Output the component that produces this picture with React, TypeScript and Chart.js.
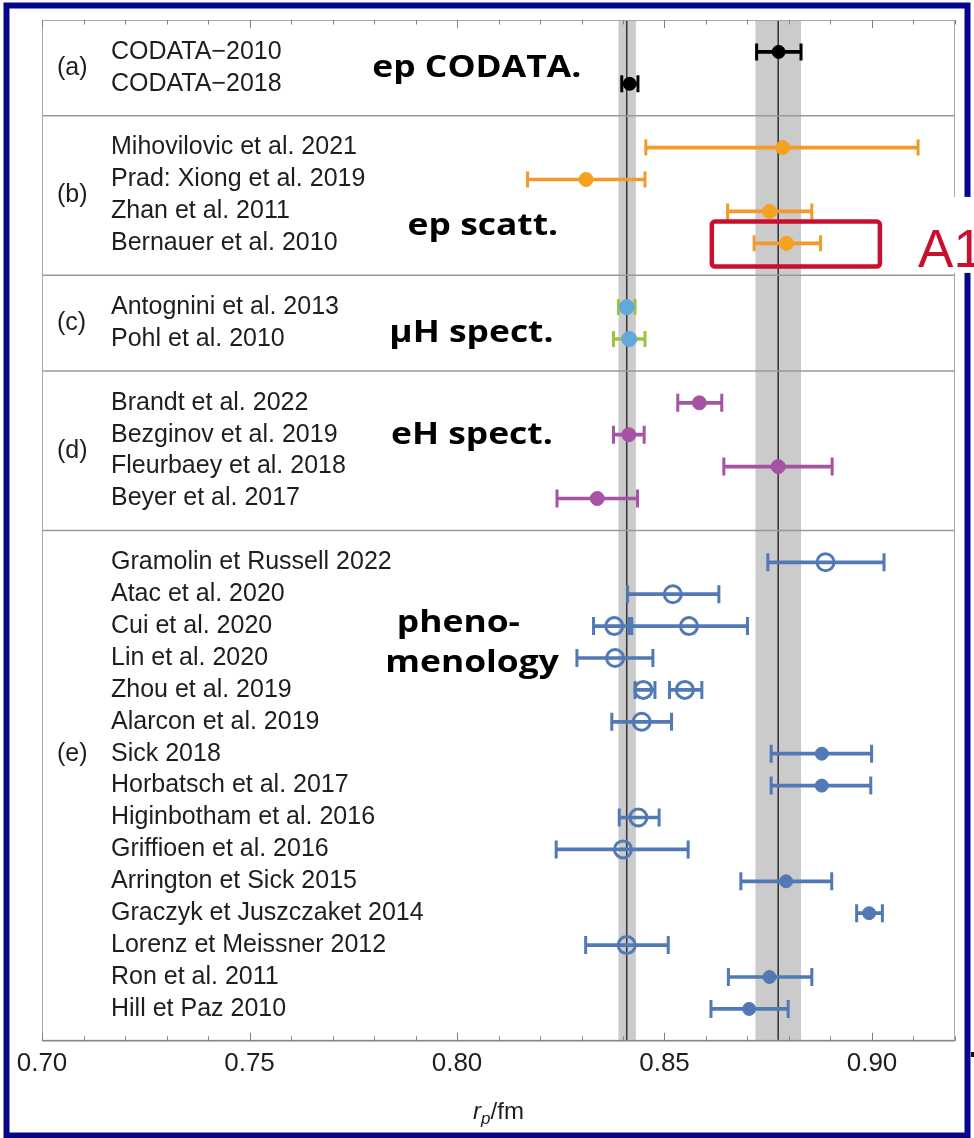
import React, { useEffect, useRef } from 'react';
import { Chart, registerables } from 'chart.js';

Chart.register(...registerables);

const FONT = "'Liberation Sans', Arial, Helvetica, sans-serif";
const BOLD_FONT = "'Open Sans', 'Noto Sans', sans-serif";

// ---- rows (labels and their vertical slot) ----
const rowLabels = [
  'CODATA−2010', 'CODATA−2018',
  'Mihovilovic et al. 2021', 'Prad: Xiong et al. 2019', 'Zhan et al. 2011', 'Bernauer et al. 2010',
  'Antognini et al. 2013', 'Pohl et al. 2010',
  'Brandt et al. 2022', 'Bezginov et al. 2019', 'Fleurbaey et al. 2018', 'Beyer et al. 2017',
  'Gramolin et Russell 2022', 'Atac et al. 2020', 'Cui et al. 2020', 'Lin et al. 2020', 'Zhou et al. 2019',
  'Alarcon et al. 2019', 'Sick 2018', 'Horbatsch et al. 2017', 'Higinbotham et al. 2016',
  'Griffioen et al. 2016', 'Arrington et Sick 2015', 'Graczyk et Juszczaket 2014',
  'Lorenz et Meissner 2012', 'Ron et al. 2011', 'Hill et Paz 2010',
];
const rowPositions = [1, 2, 4, 5, 6, 7, 9, 10, 12, 13, 14, 15, 17, 18, 19, 20, 21, 22, 23, 24, 25, 26, 27, 28, 29, 30, 31];
const rowGroup = [0, 0, 1, 1, 1, 1, 2, 2, 3, 3, 3, 3, 4, 4, 4, 4, 4, 4, 4, 4, 4, 4, 4, 4, 4, 4, 4];

// ---- groups ----
const groupNames = ['(a)', '(b)', '(c)', '(d)', '(e)'];
const groupLabelRow = [1.5, 5.5, 9.5, 13.5, 23];
const groupSeparators = [3, 8, 11, 16];
const groupMarkerColor = ['#000000', '#F6A21E', '#62A8DA', '#A553A3', '#5079B5'];
const groupBarColor = ['#000000', '#F29A2B', '#9CC43C', '#A553A3', '#5079B5'];
const groupRadius = [6.5, 7, 7.5, 7, 6.5];
const groupCapHalf = [8.5, 8, 8, 9, 9];

// ---- measurements (r_p in fm) ----
const pointRow = [0, 1, 2, 3, 4, 5, 6, 7, 8, 9, 10, 11, 12, 13, 14, 14, 15, 16, 16, 17, 18, 19, 20, 21, 22, 23, 24, 25, 26];
const pointValue = [0.8775, 0.8416, 0.8785, 0.8311, 0.8753, 0.8794, 0.8409, 0.8415, 0.8584, 0.8414, 0.8774, 0.8338,
  0.8888, 0.8520, 0.8379, 0.8559, 0.8381, 0.8449, 0.8549, 0.8445, 0.8879, 0.8879, 0.8437, 0.8400, 0.8793, 0.8993,
  0.8409, 0.8753, 0.8704];
const pointLow = [0.8722, 0.8397, 0.8455, 0.8170, 0.8652, 0.8716, 0.8389, 0.8377, 0.8532, 0.8377, 0.8643, 0.8241,
  0.8749, 0.8411, 0.8329, 0.8421, 0.8289, 0.8429, 0.8512, 0.8373, 0.8757, 0.8757, 0.8391, 0.8239, 0.8684, 0.8963,
  0.8310, 0.8654, 0.8612];
const pointHigh = [0.8829, 0.8436, 0.9111, 0.8453, 0.8855, 0.8876, 0.8429, 0.8453, 0.8638, 0.8451, 0.8904, 0.8435,
  0.9029, 0.8631, 0.8415, 0.8700, 0.8472, 0.8477, 0.8590, 0.8517, 0.8999, 0.8997, 0.8487, 0.8557, 0.8903, 0.9025,
  0.8509, 0.8855, 0.8798];
const pointOpen = [0, 0, 0, 0, 0, 0, 0, 0, 0, 0, 0, 0, 1, 1, 1, 1, 1, 1, 1, 1, 0, 0, 1, 1, 0, 0, 1, 0, 0];

// ---- reference lines and bands ----
const refLineValue = [0.8409, 0.8774];
const refBandLow = [0.8389, 0.8719];
const refBandHigh = [0.8431, 0.8829];

// ---- axis ----
const xMin = 0.70;
const xMax = 0.92;
const xStep = 0.01;
const xTickLabels = ['0.70', '0.75', '0.80', '0.85', '0.90'];

// ---- bold annotations ----
const annotText = ['ep CODATA.', 'ep scatt.', 'μH spect.', 'eH spect.', 'pheno-', 'menology'];
const annotX = [0.7796, 0.7881, 0.7837, 0.7841, 0.7855, 0.7827];
const annotRow = [1.78, 6.73, 10.08, 13.29, 19.18, 20.43];
const ANNOT_STRETCH = 1.18;

// ---- highlight box ----
const boxX = [0.8614, 0.9019];
const boxRow = [6.32, 7.73];
const boxLabel = 'A1';
const boxLabelX = 0.9111;
const boxLabelRow = 7.74;

const label = (v: number) => {
  const hit = xTickLabels.find((t) => Math.abs(parseFloat(t) - v) < 1e-6);
  return hit ?? '';
};

export default function App() {
  const ref = useRef<HTMLCanvasElement>(null);

  useEffect(() => {
    document.body.style.margin = '0';
    const canvas = ref.current!;

    const barData = pointValue.map((_, i) => ({ x: [pointLow[i], pointHigh[i]], y: rowPositions[pointRow[i]] }));
    const barColors = pointValue.map((_, i) => groupBarColor[rowGroup[pointRow[i]]]);

    const capData: { x: number; y: number }[] = [];
    const capColors: string[] = [];
    const capRadius: number[] = [];
    pointValue.forEach((_, i) => {
      const g = rowGroup[pointRow[i]];
      [pointLow[i], pointHigh[i]].forEach((v) => {
        capData.push({ x: v, y: rowPositions[pointRow[i]] });
        capColors.push(groupBarColor[g]);
        capRadius.push(groupCapHalf[g]);
      });
    });

    const markerData = pointValue.map((v, i) => ({ x: v, y: rowPositions[pointRow[i]] }));
    const markerBorder = pointValue.map((_, i) => groupMarkerColor[rowGroup[pointRow[i]]]);
    const markerFill = pointValue.map((_, i) => (pointOpen[i] ? 'rgba(255,255,255,0)' : groupMarkerColor[rowGroup[pointRow[i]]]));
    const markerRadius = pointValue.map((_, i) => (pointOpen[i] ? 8.5 : groupRadius[rowGroup[pointRow[i]]]));
    const markerBorderWidth = pointValue.map((_, i) => (pointOpen[i] ? 3 : 1));

    const backgroundPlugin = {
      id: 'background',
      beforeDraw(chart: any) {
        const { ctx, width, height } = chart;
        ctx.save();
        ctx.fillStyle = '#ffffff';
        ctx.fillRect(0, 0, width, height);
        ctx.restore();
      },
      beforeDatasetsDraw(chart: any) {
        const { ctx, chartArea: ca, scales } = chart;
        const xs = scales.x;
        const ys = scales.y;
        ctx.save();
        // bands
        ctx.fillStyle = '#cbcbcb';
        refBandLow.forEach((lo, i) => {
          const a = xs.getPixelForValue(lo);
          const b = xs.getPixelForValue(refBandHigh[i]);
          ctx.fillRect(a, ca.top, b - a, ca.bottom - ca.top);
        });
        // vertical reference lines
        ctx.strokeStyle = '#3a3a3a';
        ctx.lineWidth = 1.6;
        refLineValue.forEach((v) => {
          const p = xs.getPixelForValue(v);
          ctx.beginPath();
          ctx.moveTo(p, ca.top);
          ctx.lineTo(p, ca.bottom);
          ctx.stroke();
        });
        // group separators
        ctx.strokeStyle = '#999999';
        ctx.lineWidth = 1.5;
        groupSeparators.forEach((r) => {
          const p = ys.getPixelForValue(r);
          ctx.beginPath();
          ctx.moveTo(ca.left, p);
          ctx.lineTo(ca.right, p);
          ctx.stroke();
        });
        // frame
        ctx.strokeStyle = '#a8a8a8';
        ctx.lineWidth = 1;
        ctx.strokeRect(ca.left + 0.5, ca.top + 0.5, ca.right - ca.left - 1, ca.bottom - ca.top - 1);
        ctx.strokeStyle = '#888888';
        ctx.lineWidth = 1.5;
        ctx.beginPath();
        ctx.moveTo(ca.left, ca.bottom);
        ctx.lineTo(ca.right, ca.bottom);
        ctx.stroke();
        // tick marks (top and bottom, pointing inward)
        ctx.strokeStyle = '#808080';
        ctx.lineWidth = 1;
        xs.ticks.forEach((t: any) => {
          const p = Math.round(xs.getPixelForValue(t.value)) + 0.5;
          const len = label(t.value) ? 8 : 4.5;
          ctx.beginPath();
          ctx.moveTo(p, ca.bottom);
          ctx.lineTo(p, ca.bottom - len);
          ctx.moveTo(p, ca.top);
          ctx.lineTo(p, ca.top + len);
          ctx.stroke();
        });
        ctx.restore();
      },
      afterDraw(chart: any) {
        const { ctx, chartArea: ca, scales } = chart;
        const xs = scales.x;
        const ys = scales.y;
        ctx.save();
        // row labels
        ctx.font = `25px ${FONT}`;
        ctx.fillStyle = '#1e1e1e';
        ctx.textBaseline = 'middle';
        ctx.textAlign = 'left';
        rowLabels.forEach((t, i) => {
          ctx.fillText(t, ca.left + 69, ys.getPixelForValue(rowPositions[i]));
        });
        // group labels
        groupNames.forEach((t, i) => {
          ctx.fillText(t, ca.left + 15, ys.getPixelForValue(groupLabelRow[i]));
        });
        // bold annotations
        ctx.font = `bold 30px ${BOLD_FONT}`;
        ctx.fillStyle = '#000000';
        ctx.textBaseline = 'alphabetic';
        annotText.forEach((t, i) => {
          ctx.save();
          ctx.translate(xs.getPixelForValue(annotX[i]), ys.getPixelForValue(annotRow[i]));
          ctx.scale(ANNOT_STRETCH, 1);
          ctx.fillText(t, 0, 0);
          ctx.restore();
        });
        // x axis title: r_p/fm
        const base = ca.bottom + 78.5;
        const cx = (ca.left + ca.right) / 2;
        ctx.fillStyle = '#1e1e1e';
        const fR = `italic 24px ${FONT}`;
        const fP = `italic 17px ${FONT}`;
        const fF = `24px ${FONT}`;
        ctx.font = fR; const wR = ctx.measureText('r').width;
        ctx.font = fP; const wP = ctx.measureText('p').width;
        ctx.font = fF; const wF = ctx.measureText('/fm').width;
        let tx = cx - (wR + wP + wF) / 2;
        ctx.font = fR; ctx.fillText('r', tx, base); tx += wR;
        ctx.font = fP; ctx.fillText('p', tx, base + 5); tx += wP;
        ctx.font = fF; ctx.fillText('/fm', tx, base);
        // navy outer frame
        ctx.strokeStyle = '#06068a';
        ctx.lineWidth = 6;
        ctx.strokeRect(6.5, 5.5, 961, 1130);
        ctx.fillStyle = '#111111';
        ctx.fillRect(971, 1052, 3, 5);
        // highlight box
        const bx0 = xs.getPixelForValue(boxX[0]);
        const bx1 = xs.getPixelForValue(boxX[1]);
        const by0 = ys.getPixelForValue(boxRow[0]);
        const by1 = ys.getPixelForValue(boxRow[1]);
        ctx.strokeStyle = '#C8102E';
        ctx.lineWidth = 4.5;
        ctx.beginPath();
        ctx.roundRect(bx0, by0, bx1 - bx0, by1 - by0, 3);
        ctx.stroke();
        // A1 label on white patch
        const ax = xs.getPixelForValue(boxLabelX);
        const ay = ys.getPixelForValue(boxLabelRow);
        ctx.fillStyle = '#ffffff';
        ctx.fillRect(ax - 18, ay - 70, 100, 76);
        ctx.fillStyle = '#C8102E';
        ctx.font = `53px ${FONT}`;
        ctx.textBaseline = 'alphabetic';
        ctx.fillText(boxLabel, ax, ay);
        ctx.restore();
      },
    };

    const chart = new Chart(canvas, {
      type: 'scatter',
      data: {
        datasets: [
          {
            type: 'bar',
            indexAxis: 'y',
            data: barData as any,
            backgroundColor: barColors,
            borderWidth: 0,
            barThickness: 3,
            order: 3,
          } as any,
          {
            type: 'scatter',
            data: capData,
            pointStyle: 'line',
            rotation: 90,
            pointRadius: capRadius,
            pointBorderColor: capColors,
            pointBackgroundColor: capColors,
            pointBorderWidth: 3,
            order: 2,
          } as any,
          {
            type: 'scatter',
            data: markerData,
            pointStyle: 'circle',
            pointRadius: markerRadius,
            pointBackgroundColor: markerFill,
            pointBorderColor: markerBorder,
            pointBorderWidth: markerBorderWidth,
            order: 1,
          } as any,
        ],
      },
      options: {
        animation: false,
        responsive: false,
        devicePixelRatio: 1,
        events: [],
        layout: { padding: { left: 42, right: 19, top: 20, bottom: 52 } },
        plugins: { legend: { display: false }, tooltip: { enabled: false }, title: { display: false } },
        scales: {
          x: {
            type: 'linear',
            min: xMin,
            max: xMax,
            offset: false,
            grid: { display: false, drawTicks: false },
            border: { display: false },
            ticks: {
              stepSize: xStep,
              autoSkip: false,
              maxRotation: 0,
              minRotation: 0,
              padding: 7,
              color: '#1e1e1e',
              font: { family: FONT, size: 26 },
              callback: (v: any) => label(Number(v)),
            },
          },
          y: {
            type: 'linear',
            min: 0,
            max: 32,
            reverse: true,
            offset: false,
            display: false,
          },
        },
      } as any,
      plugins: [backgroundPlugin],
    });
    return () => chart.destroy();
  }, []);

  return <canvas ref={ref} width={974} height={1138} style={{ display: 'block', width: 974, height: 1138 }} />;
}
